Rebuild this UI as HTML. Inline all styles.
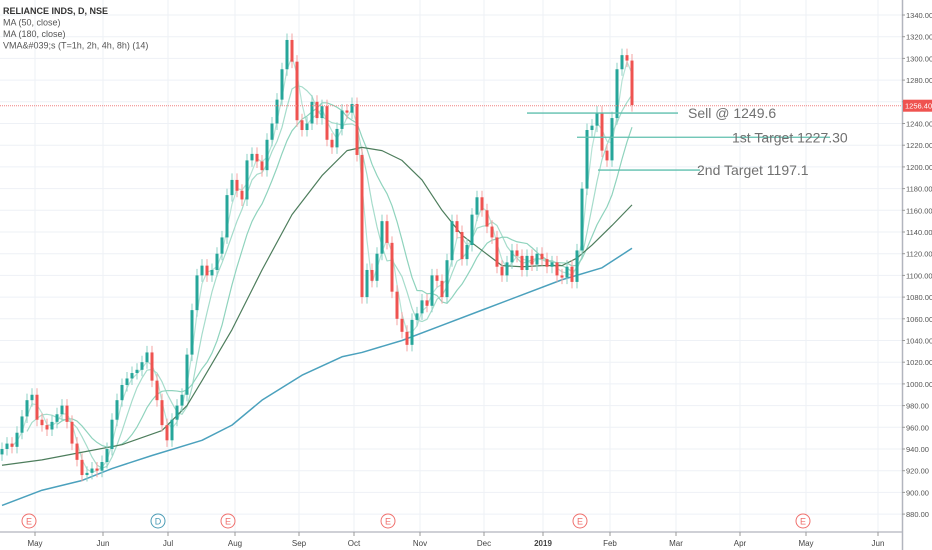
<!DOCTYPE html>
<html><head><meta charset="utf-8"><style>
body{margin:0;background:#fff;font-family:"Liberation Sans",sans-serif}
svg{display:block}
</style></head><body>
<svg id="c" width="932" height="550" xmlns="http://www.w3.org/2000/svg"></svg>
<script>
const closes=[940,945,942,955,970,985,990,967,962,958,965,972,980,965,945,930,916,918,922,920,928,940,967,985,999,1005,1010,1013,1020,1029,1003,985,962,948,967,980,990,1027,1068,1100,1109,1100,1105,1120,1135,1174,1188,1178,1170,1206,1212,1205,1197,1225,1240,1262,1290,1317,1297,1243,1234,1240,1260,1245,1256,1225,1218,1235,1252,1250,1258,1211,1080,1105,1095,1120,1150,1130,1085,1060,1048,1036,1059,1065,1077,1072,1100,1095,1080,1114,1150,1140,1115,1128,1156,1172,1160,1145,1135,1108,1100,1112,1123,1118,1105,1118,1110,1120,1115,1108,1112,1100,1098,1108,1094,1123,1180,1234,1238,1250,1215,1206,1245,1290,1303,1298,1257];
const ma50Idx=[0,8,16,24,32,37,40,46,52,58,64,69,72,76,80,84,88,92,96,100,104,108,112,115,118,122,126];
const ma50Val=[925,930,937,944,957,980,1003,1050,1105,1156,1192,1215,1218,1215,1206,1188,1160,1137,1123,1109,1108,1109,1109,1116,1128,1146,1165];
const ma180Idx=[0,8,16,22,30,40,46,52,60,68,72,80,88,96,104,112,120,126];
const ma180Val=[888,902,911,922,934,948,962,985,1008,1025,1029,1040,1054,1068,1082,1096,1107,1125];
const priceTicks=[880,900,920,940,960,980,1000,1020,1040,1060,1080,1100,1120,1140,1160,1180,1200,1220,1240,1260,1280,1300,1320,1340];
const months=["May","Jun","Jul","Aug","Sep","Oct","Nov","Dec","2019","Feb","Mar","Apr","May","Jun"];
const monthX=[35,103,168,235,299,354,420,484,543,610,676,740,806,878];
const lastPrice=1256.4;
const events=[["E",29],["D",158],["E",228],["E",388],["E",580],["E",803]];

const NS="http://www.w3.org/2000/svg",svg=document.getElementById('c');
const Y=p=>15+(1340-p)*1.085, X=i=>2+i*5;
function el(t,a,parent){const e=document.createElementNS(NS,t);for(const k in a)e.setAttribute(k,a[k]);(parent||svg).appendChild(e);return e;}
priceTicks.forEach(p=>{const l=el('line',{x1:0,x2:902,y1:Y(p),y2:Y(p),stroke:'#eef1f6'});

});
monthX.forEach(x=>{const l=el('line',{x1:x,x2:x,y1:0,y2:532,stroke:'#eef1f6'});

});
function line(idx,val,color,w,name){const d=idx.map((i,k)=>(k?'L':'M')+X(i)+' '+Y(val[k])).join(' ');const p=el('path',{d,fill:'none',stroke:color,'stroke-width':w,'stroke-linejoin':'round'});

}
function sma(n){const idx=[],val=[];for(let i=n-1;i<closes.length;i++){let s=0;for(let j=i-n+1;j<=i;j++)s+=closes[j];idx.push(i);val.push(s/n);}return [idx,val];}
[[3,'#b7e3d6'],[6,'#a6dccb'],[12,'#8fd3bd']].forEach(([n,c])=>{const [a,b]=sma(n);line(a,b,c,1.2,'vma-line');});
line(ma50Idx,ma50Val,'#4d7d5c',1.2,'ma50-line');
line(ma180Idx,ma180Val,'#4ba1bd',1.5,'ma180-line');
closes.forEach((c,i)=>{const o=i?closes[i-1]:935;const up=c>=o;const col=up?'#26a69a':'#ef5350';
const g=el('g',{});


el('line',{x1:X(i),x2:X(i),y1:Y(Math.max(o,c)+6),y2:Y(Math.min(o,c)-6),stroke:up?'#8ed1c5':'#f5a3a2'},g);
const t=Math.min(Y(o),Y(c));el('rect',{x:X(i)-1.5,y:t,width:3,height:Math.max(1,Math.abs(Y(o)-Y(c))),fill:col},g);});
const lp=el('line',{x1:0,x2:902,y1:Y(lastPrice),y2:Y(lastPrice),stroke:'#f08080','stroke-dasharray':'1 1'});


[[527,678,1249.6,'Sell @ 1249.6',688],[577,830,1227.3,'1st Target 1227.30',732],[598,700,1197.1,'2nd Target 1197.1',697]].forEach(a=>{
const l=el('line',{x1:a[0],x2:a[1],y1:Y(a[2]),y2:Y(a[2]),stroke:'#5fbfae','stroke-width':1.3});


const t=el('text',{x:a[4],y:Y(a[2])+5,'font-size':14,fill:'#707070'});t.textContent=a[3];

});
el('rect',{x:903,y:0,width:29,height:550,fill:'#fff'});
el('line',{x1:902.5,x2:902.5,y1:0,y2:550,stroke:'#b2b5be','stroke-width':1.5});
el('line',{x1:0,x2:902,y1:532,y2:532,stroke:'#b2b5be','stroke-width':1.2});
priceTicks.forEach(p=>{el('line',{x1:902,x2:905,y1:Y(p),y2:Y(p),stroke:'#999'});const t=el('text',{x:906,y:Y(p)+3,'font-size':7.5,fill:'#555'});t.textContent=p.toFixed(2);

});
const pb=el('rect',{x:903,y:Y(lastPrice)-6,width:29,height:12,fill:'#ef5350'});


const pt=el('text',{x:905,y:Y(lastPrice)+3,'font-size':7.5,fill:'#fff'});pt.textContent=lastPrice.toFixed(2);
months.forEach((m,k)=>{el('line',{x1:monthX[k],x2:monthX[k],y1:532,y2:536,stroke:'#999'});const t=el('text',{x:monthX[k],y:546,'font-size':8,fill:'#444','text-anchor':'middle','font-weight':m==='2019'?'bold':'normal'});t.textContent=m;

});
events.forEach(([s,x])=>{const c=s==='D'?'#4a9bb5':'#ef6f6c';const g=el('g',{});


el('circle',{cx:x,cy:521,r:7,fill:'#fff',stroke:c},g);const t=el('text',{x:x,y:524.5,'font-size':9,fill:c,'text-anchor':'middle'},g);t.textContent=s;});
[['RELIANCE INDS, D, NSE',true],['MA (50, close)'],['MA (180, close)'],['VMA&#039;s (T=1h, 2h, 4h, 8h) (14)']].forEach((r,k)=>{const t=el('text',{x:3,y:14+k*11.5,'font-size':9,fill:r[1]?'#333':'#555','font-weight':r[1]?'bold':'normal'});t.textContent=r[0];

});
</script>
</body></html>
